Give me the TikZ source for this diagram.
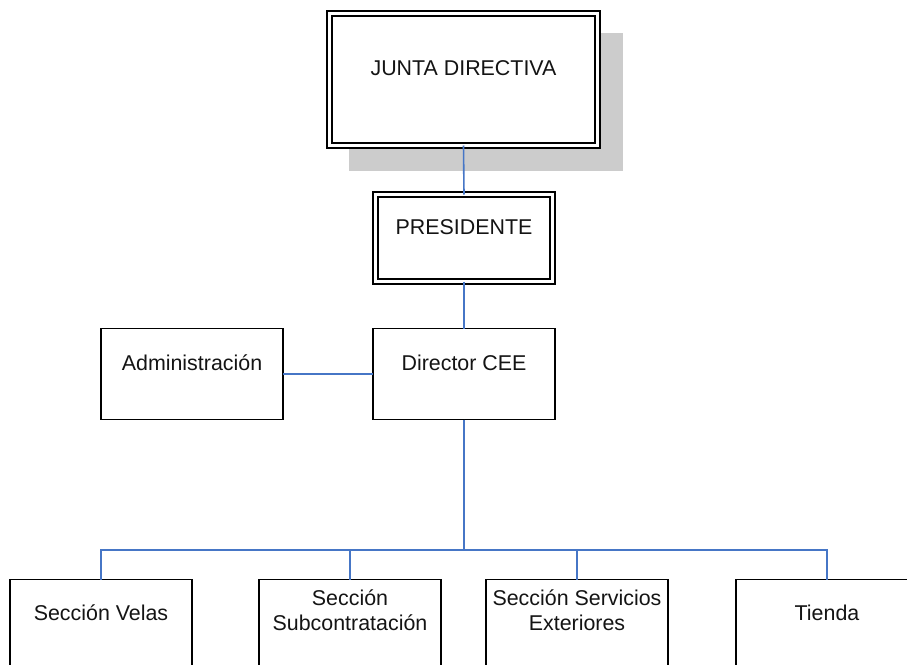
\documentclass[tikz,border=0pt]{standalone}
\usepackage{fontspec}
\setmainfont{Liberation Sans}
\definecolor{linkblue}{RGB}{70,118,198}
\definecolor{shadowgray}{RGB}{204,204,204}
\definecolor{inkc}{RGB}{20,20,20}
\begin{document}
\begin{tikzpicture}[x=1pt,y=1pt,
  every node/.style={inner sep=0pt,outer sep=0pt},
  box/.style={draw=black,line width=1.7pt,fill=white,minimum width=182pt,minimum height=91pt},
  dbox/.style={draw=black,line width=1.5pt,double=white,double distance=3.2pt,fill=white},
  txt/.style={font=\fontsize{21.4}{25}\selectfont,text=inkc,align=center},
  link/.style={draw=linkblue,line width=1.6pt}]
\path[use as bounding box] (0,0) rectangle (907,-664);
\clip (0,0) rectangle (907,-664);
\fill[white] (0,0) rectangle (907,-664);
% shadow of top box
\fill[shadowgray] (349,-33) rectangle (623,-171);
% nodes
\node[dbox,minimum width=268pt,minimum height=132pt] (junta) at (463.5,-79.5) {};
\node[txt] at ([yshift=-55pt]junta.north) {JUNTA DIRECTIVA};
\node[dbox,minimum width=177pt,minimum height=87pt] (pres) at (464,-238) {};
\node[txt] at ([yshift=-33pt]pres.north) {PRESIDENTE};
\node[box] (adm) at (192,-374) {};
\node[txt] at ([yshift=-34pt]adm.north) {Administración};
\node[box] (dir) at (464,-374) {};
\node[txt] at ([yshift=-34pt]dir.north) {Director CEE};
\node[box] (velas) at (101,-625) {};
\node[txt] at ([yshift=-33pt]velas.north) {Sección Velas};
\node[box] (sub) at (350,-625) {};
\node[txt] at ([yshift=-31pt]sub.north) {Sección\\Subcontratación};
\node[box] (serv) at (577,-625) {};
\node[txt] at ([yshift=-31pt]serv.north) {Sección Servicios\\Exteriores};
\node[box] (tienda) at (827,-625) {};
\node[txt] at ([yshift=-33pt]tienda.north) {Tienda};
\coordinate (hub) at (464,-550);
% connectors
\draw[link] (junta.south) -- (pres.north);
\draw[link] (pres.south) -- (dir.north);
\draw[link] (adm.east) -- (dir.west);
\draw[link] (dir.south) -- (hub);
\draw[link] (velas.north) |- (hub) -| (tienda.north);
\draw[link] (sub.north) -- (sub.north |- hub);
\draw[link] (serv.north) -- (serv.north |- hub);
\end{tikzpicture}
\end{document}
